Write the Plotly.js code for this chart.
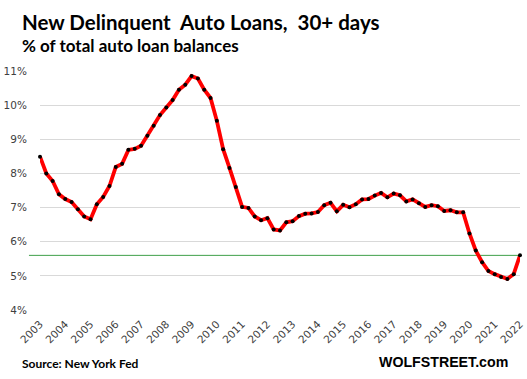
<!DOCTYPE html>
<html>
<head>
<meta charset="utf-8">
<script src="https://cdn.plot.ly/plotly-3.0.1.min.js"></script>
<style>
html,body{margin:0;padding:0;background:#fff;}
#chart{width:527px;height:379px;}
</style>
</head>
<body>
<div id="chart"></div>
<script>
// Year labels on the category axis
const years = [2003,2004,2005,2006,2007,2008,2009,2010,2011,2012,2013,2014,2015,2016,2017,2018,2019,2020,2021,2022];

// New delinquent auto loans, 30+ days, % of balances, quarterly 2003Q1 - 2022Q1
const delinquency = [
  8.49, 8.00, 7.78, 7.39, 7.25, 7.16, 6.95, 6.74, 6.66, 7.10, 7.31, 7.63, 8.19, 8.28, 8.69,
  8.72, 8.81, 9.10, 9.40, 9.71, 9.93, 10.15, 10.45, 10.60, 10.85, 10.78, 10.45, 10.21, 9.54, 8.71,
  8.16, 7.60, 7.02, 6.99, 6.74, 6.63, 6.69, 6.36, 6.33, 6.57, 6.60, 6.75, 6.82, 6.83, 6.87,
  7.07, 7.14, 6.89, 7.08, 7.01, 7.10, 7.24, 7.25, 7.35, 7.43, 7.30, 7.41, 7.36, 7.18, 7.24,
  7.13, 7.02, 7.07, 7.04, 6.90, 6.92, 6.86, 6.86, 6.24, 5.74, 5.40, 5.14, 5.05, 4.97, 4.91, 5.05, 5.60
];

// Quarter categories built from the year list
const quarters = [];
years.forEach(y => ['Q1','Q2','Q3','Q4'].forEach(q => quarters.push(y + q)));
const cats = quarters.slice(0, delinquency.length);

const yTicks = [4,5,6,7,8,9,10,11];
const lastVal = delinquency[delinquency.length - 1];

const trace = {
  x: cats,
  y: delinquency,
  type: 'scatter',
  mode: 'lines+markers',
  cliponaxis: false,
  line: {color: '#ff0000', width: 3.8},
  marker: {color: '#000000', size: 4, symbol: 'circle'},
  hoverinfo: 'skip'
};

const tickFont = {family: 'DejaVu Sans, Verdana, sans-serif', size: 10.5, color: '#404040'};

const layout = {
  width: 527,
  height: 379,
  margin: {l: 40, r: 7, t: 71, b: 69},
  paper_bgcolor: '#ffffff',
  plot_bgcolor: '#ffffff',
  showlegend: false,
  xaxis: {
    type: 'category',
    range: [0, cats.length - 1],
    tickvals: years.map(y => y + 'Q1'),
    ticktext: years.map(String),
    tickangle: -45,
    tickfont: tickFont,
    showgrid: false,
    zeroline: false,
    showline: false,
    ticks: 'outside',
    ticklen: 3,
    tickcolor: 'rgba(0,0,0,0)',
    fixedrange: true
  },
  yaxis: {
    range: [4, 11],
    tickvals: yTicks,
    ticktext: yTicks.map(v => v + '%'),
    tickfont: tickFont,
    showgrid: true,
    gridcolor: '#d9d9d9',
    gridwidth: 1,
    zeroline: false,
    showline: false,
    ticks: 'outside',
    ticklen: 10,
    tickcolor: 'rgba(0,0,0,0)',
    fixedrange: true
  },
  shapes: [{
    type: 'line',
    xref: 'paper', yref: 'y',
    x0: -0.023, x1: 1,
    y0: lastVal, y1: lastVal,
    line: {color: '#3f9f4a', width: 1},
    layer: 'below'
  }],
  annotations: [
    {
      text: 'New Delinquent  Auto Loans,  30+ days',
      xref: 'paper', yref: 'paper',
      x: -0.042, y: 1.262, xanchor: 'left', yanchor: 'top',
      showarrow: false,
      font: {family: 'Lato, Carlito, sans-serif', size: 20.5, color: '#000000', weight: 'bold'}
    },
    {
      text: '% of total auto loan balances',
      xref: 'paper', yref: 'paper',
      x: -0.042, y: 1.16, xanchor: 'left', yanchor: 'top',
      showarrow: false,
      font: {family: 'Lato, Carlito, sans-serif', size: 17, color: '#000000', weight: 'bold'}
    },
    {
      text: 'Source: New York Fed',
      xref: 'paper', yref: 'paper',
      x: -0.042, y: -0.185, xanchor: 'left', yanchor: 'top',
      showarrow: false,
      font: {family: 'Lato, Carlito, sans-serif', size: 12, color: '#000000', weight: 'bold'}
    },
    {
      text: 'WOLFSTREET.com',
      xref: 'paper', yref: 'paper',
      x: (510 - 40) / 480, y: -0.175, xanchor: 'right', yanchor: 'top',
      showarrow: false,
      font: {family: 'Liberation Sans, Arial, sans-serif', size: 14.2, color: '#000000', weight: 'bold'}
    }
  ]
};

Plotly.newPlot('chart', [trace], layout, {staticPlot: true, displayModeBar: false});
</script>
</body>
</html>
